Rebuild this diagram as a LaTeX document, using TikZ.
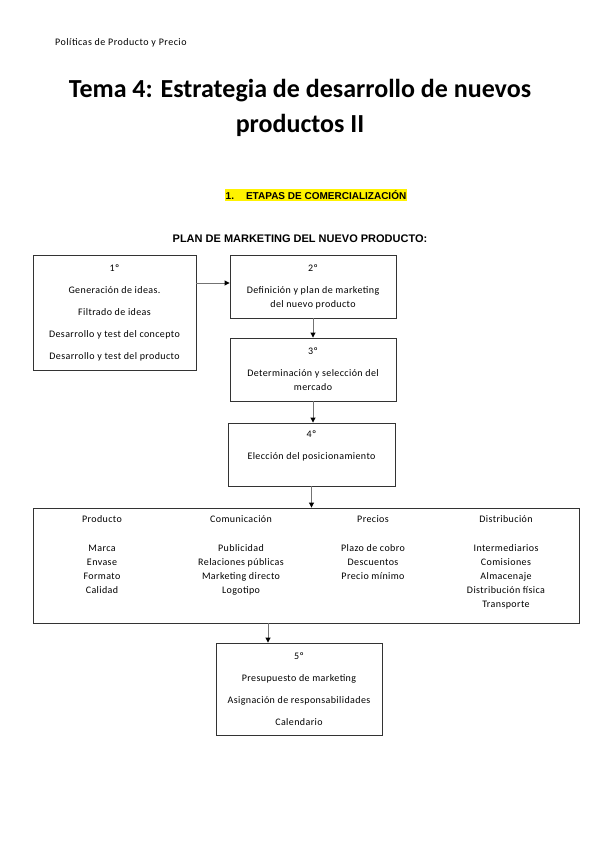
\documentclass[tikz,border=0pt]{standalone}
\usepackage{fontspec}
\setmainfont{Carlito}
\newfontfamily\spacedf[LetterSpace=4]{Carlito}
\newfontfamily\hdrf[LetterSpace=5]{Carlito}
\newfontfamily\arialf{Liberation Sans}
\usetikzlibrary{arrows.meta}
\begin{document}
\begin{tikzpicture}[x=1pt,y=-1pt,
  box/.style={draw=black!80, line width=0.9pt, inner sep=0pt, align=center,
    font=\spacedf\fontsize{10}{14}\selectfont},
  arr/.style={draw=black!55, line width=0.9pt, -{Triangle[length=5pt,width=5pt,color=black]}},
  coltext/.style={align=center, inner sep=0pt, anchor=north, font=\spacedf\fontsize{10}{14}\selectfont}]
\useasboundingbox[fill=white] (0,0) rectangle (599,848);

% header and titles
\node[anchor=west, inner sep=0pt, font=\hdrf\fontsize{10}{12}\selectfont] (hdr) at (55,43) {Políticas de Producto y Precio};
\node[align=center, inner sep=0pt, font=\fontsize{26}{35}\selectfont\bfseries] (title) at (300,107.5)
  {Tema 4: Estrategia de desarrollo de nuevos\\productos II};
\node[fill=yellow, inner sep=1.2pt, font=\arialf\bfseries\fontsize{10}{12}\selectfont] (etapas) at (316,195)
  {1.\hspace{1.2em}ETAPAS DE COMERCIALIZACIÓN};
\node[inner sep=0pt, font=\arialf\bfseries\fontsize{11}{13}\selectfont] (plan) at (300,239)
  {PLAN DE MARKETING DEL NUEVO PRODUCTO:};

% boxes
\node[box, minimum width=163pt, minimum height=115pt] (b1) at (114.5,312.5)
  {1º\\[8pt]Generación de ideas.\\[8pt]Filtrado de ideas\\[8pt]Desarrollo y test del concepto\\[8pt]Desarrollo y test del producto};
\node[box, minimum width=166pt, minimum height=63pt] (b2) at (313,286.5)
  {2º\\[8pt]Definición y plan de marketing\\del nuevo producto};
\node[box, minimum width=166pt, minimum height=63pt] (b3) at (313,369.5)
  {3º\\[8pt]Determinación y selección del\\mercado};
\node[box, minimum width=167pt, minimum height=63pt] (b4) at (311.5,454.5)
  {4º\\[8pt]Elección del posicionamiento\\[4pt]\mbox{}};
\node[box, minimum width=546pt, minimum height=115pt] (big) at (306,565.5) {};
\node[box, minimum width=166pt, minimum height=92pt] (b5) at (299,689)
  {5º\\[8pt]Presupuesto de marketing\\[8pt]Asignación de responsabilidades\\[8pt]Calendario};

% columns of the big box
\node[coltext] (c1) at (102,512.5) {\strut Producto\\[15pt]Marca\\Envase\\Formato\\Calidad};
\node[coltext] (c2) at (241,512.5) {\strut Comunicación\\[15pt]Publicidad\\Relaciones públicas\\Marketing directo\\Logotipo};
\node[coltext] (c3) at (373,512.5) {\strut Precios\\[15pt]Plazo de cobro\\Descuentos\\Precio mínimo};
\node[coltext] (c4) at (506,512.5) {\strut Distribución\\[15pt]Intermediarios\\Comisiones\\Almacenaje\\Distribución física\\Transporte};

% connectors
\coordinate (a12) at (0,283);
\coordinate (a5) at (268,0);
\draw[arr] (b1.east |- a12) -- (b2.west |- a12);
\draw[arr] (b2.south) -- (b3.north);
\draw[arr] (b3.south) -- (b3.south |- b4.north);
\draw[arr] (b4.south) -- (b4.south |- big.north);
\draw[arr] (big.south -| a5) -- (b5.north -| a5);
\end{tikzpicture}
\end{document}
